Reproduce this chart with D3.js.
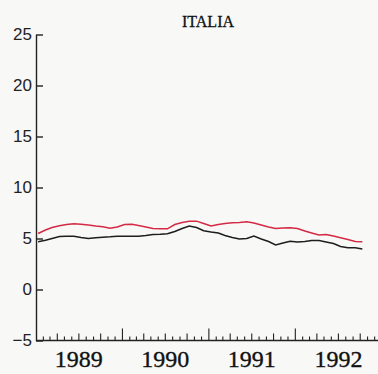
<!DOCTYPE html>
<html><head><meta charset="utf-8">
<script src="https://cdn.jsdelivr.net/npm/d3@7"></script>
<style>html,body{margin:0;padding:0;background:#f8f8f7;}svg{display:block;}</style>
</head><body>
<svg id="c" width="378" height="374"></svg>
<script>
const title = "ITALIA";
const startYear = 1989, startMonth = 0; // first observation: Jan 1989, monthly
const redSeries = [5.49,5.83,6.08,6.25,6.37,6.44,6.39,6.32,6.23,6.16,6.00,6.13,
  6.37,6.39,6.27,6.13,5.98,5.96,5.95,6.37,6.57,6.70,6.70,6.47,
  6.23,6.37,6.47,6.54,6.57,6.63,6.52,6.32,6.13,5.98,6.03,6.05,
  5.98,5.74,5.54,5.34,5.39,5.24,5.08,4.90,4.71,4.68];
const blackSeries = [4.68,4.82,5.00,5.20,5.23,5.23,5.10,5.00,5.07,5.13,5.16,5.23,
  5.23,5.23,5.23,5.29,5.39,5.41,5.46,5.69,5.98,6.23,6.08,5.76,
  5.64,5.54,5.29,5.10,4.95,5.00,5.23,4.95,4.71,4.36,4.56,4.73,
  4.66,4.71,4.80,4.80,4.66,4.51,4.22,4.09,4.09,3.97];
const yTicks = [-5,0,5,10,15,20,25];
const yearLabels = [1989,1990,1991,1992];

const svg = d3.select("#c");
const x = d3.scaleTime().domain([new Date(1989,0,1), new Date(1993,0,1)]).range([36, 382]);
const y = d3.scaleLinear().domain([-5,25]).range([340.5, 34.5]);

const dates = redSeries.map((_, i) => new Date(startYear, startMonth + i, 10));

svg.append("text").attr("x", 208).attr("y", 27).attr("text-anchor","middle")
  .attr("font-family","Liberation Serif").attr("font-size",16).attr("fill","#111")
  .attr("stroke","#111").attr("stroke-width",0.3).text(title);

// y axis
const gy = svg.append("g").attr("transform","translate(36,0)")
  .call(d3.axisRight(y).tickValues(yTicks).tickSize(7).tickSizeOuter(0).tickFormat(d => d < 0 ? "\u2212" + Math.abs(d) : d));
gy.select(".domain").attr("stroke","#222").attr("stroke-width",1.4);
gy.selectAll(".tick line").attr("stroke","#222").attr("stroke-width",1.4);
gy.selectAll(".tick text").attr("x",-4).attr("text-anchor","end")
  .attr("font-family","Liberation Sans").attr("font-size",17).attr("fill","#222");

// x axis baseline and ticks
const gx = svg.append("g");
gx.append("line").attr("x1", x.range()[0]).attr("x2", x.range()[1]).attr("y1", y(-5)).attr("y2", y(-5))
  .attr("stroke","#222").attr("stroke-width",1.4);
const months = d3.timeMonth.range(new Date(1989,1,1), new Date(1993,0,1));
gx.selectAll("line.t").data(months).join("line").attr("class","t")
  .attr("x1", d => x(d)).attr("x2", d => x(d))
  .attr("y1", y(-5))
  .attr("y2", d => y(-5) - (d.getMonth() === 0 ? 12 : (d.getMonth() % 3 === 0 ? 7 : 4)))
  .attr("stroke","#222").attr("stroke-width",1.1);
gx.selectAll("text").data(yearLabels).join("text")
  .attr("x", d => x(new Date(d,6,1))).attr("y", 367).attr("text-anchor","middle")
  .attr("font-family","Liberation Serif").attr("font-size",24).attr("fill","#111")
  .attr("stroke","#111").attr("stroke-width",0.35).text(d => d);

const line = d3.line().x((d,i) => x(dates[i])).y(d => y(d)).curve(d3.curveLinear);
svg.append("path").datum(blackSeries).attr("d", line).attr("fill","none")
  .attr("stroke","#1e1e1e").attr("stroke-width",1.5);
svg.append("path").datum(redSeries).attr("d", line).attr("fill","none")
  .attr("stroke","#d42a45").attr("stroke-width",1.5);
</script>
</body></html>
